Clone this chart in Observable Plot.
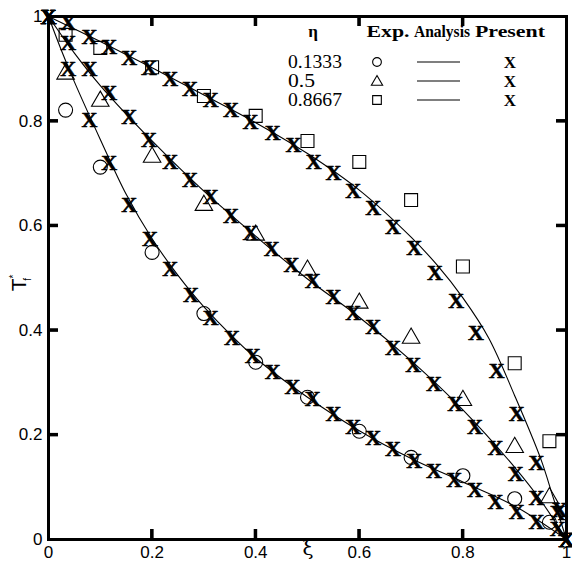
<!DOCTYPE html>
<html><head><meta charset="utf-8">
<script src="https://cdn.jsdelivr.net/npm/d3@7"></script>
<script src="https://cdn.jsdelivr.net/npm/@observablehq/plot@0.6"></script>
<style>body{margin:0;background:#fff}#chart{width:572px;height:563px}</style>
</head><body><div id="chart"></div>
<script>
const xTicks = [0, 0.2, 0.4, 0.6, 0.8, 1];
const yTicks = [0, 0.2, 0.4, 0.6, 0.8, 1];
const innerTicks = [0.2, 0.4, 0.6, 0.8];
const etaLabels = ["0.1333", "0.5", "0.8667"];

// Present (X markers)
const presXi1 = [0, 0.038, 0.079, 0.117, 0.156, 0.196, 0.235, 0.275, 0.313, 0.354, 0.394, 0.433, 0.471, 0.510, 0.550, 0.588, 0.627, 0.665, 0.706, 0.744, 0.783, 0.823, 0.863, 0.904, 0.942, 0.983, 1];
const presT1  = [1, 0.899, 0.802, 0.720, 0.639, 0.574, 0.517, 0.467, 0.423, 0.385, 0.350, 0.320, 0.291, 0.268, 0.241, 0.216, 0.195, 0.174, 0.151, 0.132, 0.113, 0.094, 0.071, 0.052, 0.033, 0.020, 0];
const presXi2 = [0, 0.038, 0.079, 0.117, 0.156, 0.194, 0.235, 0.273, 0.313, 0.352, 0.390, 0.431, 0.469, 0.510, 0.550, 0.588, 0.627, 0.665, 0.704, 0.744, 0.785, 0.823, 0.863, 0.902, 0.942, 0.983, 1];
const presT2  = [1, 0.949, 0.899, 0.853, 0.808, 0.764, 0.722, 0.687, 0.655, 0.618, 0.586, 0.555, 0.524, 0.494, 0.463, 0.433, 0.406, 0.367, 0.333, 0.297, 0.260, 0.215, 0.175, 0.126, 0.080, 0.050, 0];
const presXi3 = [0, 0.038, 0.079, 0.117, 0.156, 0.194, 0.235, 0.273, 0.313, 0.352, 0.390, 0.433, 0.473, 0.512, 0.550, 0.588, 0.627, 0.665, 0.706, 0.746, 0.787, 0.825, 0.865, 0.904, 0.942, 0.987, 1];
const presT3  = [1, 0.988, 0.961, 0.942, 0.921, 0.901, 0.880, 0.861, 0.840, 0.821, 0.798, 0.777, 0.754, 0.722, 0.700, 0.666, 0.634, 0.597, 0.557, 0.509, 0.456, 0.394, 0.322, 0.241, 0.147, 0.056, 0];

// Experimental
const expXi = [0.033, 0.1, 0.2, 0.3, 0.4, 0.5, 0.6, 0.7, 0.8, 0.9, 0.967];
const expT1 = [0.821, 0.712, 0.549, 0.432, 0.339, 0.272, 0.207, 0.157, 0.122, 0.078, 0.033];
const expT2 = [0.890, 0.838, 0.731, 0.639, 0.582, 0.515, 0.452, 0.385, 0.266, 0.176, 0.080];
const expT3 = [0.965, 0.940, 0.903, 0.848, 0.810, 0.762, 0.722, 0.649, 0.522, 0.337, 0.188];

// Analysis curves
const anXi1 = [0, 0.025, 0.05, 0.1, 0.15, 0.2, 0.25, 0.3, 0.4, 0.5, 0.6, 0.7, 0.8, 0.9, 1];
const anT1  = [1, 0.935, 0.875, 0.765, 0.66, 0.575, 0.505, 0.445, 0.347, 0.272, 0.208, 0.155, 0.110, 0.064, 0];
const anXi2 = [0, 0.05, 0.1, 0.2, 0.3, 0.4, 0.5, 0.6, 0.7, 0.8, 0.9, 0.95, 1];
const anT2  = [1, 0.93, 0.868, 0.762, 0.666, 0.58, 0.498, 0.425, 0.342, 0.248, 0.138, 0.075, 0];
const anXi3 = [0, 0.1, 0.2, 0.3, 0.4, 0.5, 0.6, 0.7, 0.75, 0.8, 0.85, 0.9, 0.95, 0.975, 1];
const anT3  = [1, 0.952, 0.902, 0.85, 0.797, 0.738, 0.668, 0.578, 0.525, 0.462, 0.385, 0.275, 0.155, 0.078, 0];

const mk = (xs, ys, s) => xs.map((x, i) => ({xi: x, T: ys[i], s}));
const present = [...mk(presXi1, presT1, 0), ...mk(presXi2, presT2, 1), ...mk(presXi3, presT3, 2)];
const analysis = [...mk(anXi1, anT1, 0), ...mk(anXi2, anT2, 1), ...mk(anXi3, anT3, 2)];
const exp1 = mk(expXi, expT1, 0), exp2 = mk(expXi, expT2, 1), exp3 = mk(expXi, expT3, 2);

const W = 572, H = 563, ML = 48, MR = 6, MT = 16, MB = 24, TL = 10;
const expStyle = {x: "xi", y: "T", stroke: "#000", strokeWidth: 1.1, fill: "none"};
const plot = Plot.plot({
  width: W, height: H,
  marginLeft: ML, marginRight: MR, marginTop: MT, marginBottom: MB,
  x: {domain: [0, 1]},
  y: {domain: [0, 1]},
  style: {fontFamily: "'Liberation Sans', Arial, sans-serif", fontSize: "17px", background: "#fff"},
  marks: [
    Plot.line(analysis, {x: "xi", y: "T", z: "s", curve: "catmull-rom", stroke: "#000", strokeWidth: 1.1}),
    Plot.dot(exp1, {...expStyle, symbol: "circle", r: 7}),
    Plot.dot(exp2, {...expStyle, symbol: "triangle", r: 6.5}),
    Plot.dot(exp3, {...expStyle, symbol: "square", r: 7.3}),
    Plot.text(present, {x: "xi", y: "T", text: () => "X", fontFamily: "'Liberation Serif', 'Times New Roman', serif", fontWeight: "bold", fontSize: 22, fill: "#000", stroke: "#000", strokeWidth: 0.6}),
    Plot.frame({stroke: "#000", strokeWidth: 3}),
    // inward ticks on all four sides
    Plot.ruleX(innerTicks, {x: d => d, insetTop: H - MT - MB - TL, strokeWidth: 3}),
    Plot.ruleX(innerTicks, {x: d => d, insetBottom: H - MT - MB - TL, strokeWidth: 3}),
    Plot.ruleY(innerTicks, {y: d => d, insetRight: W - ML - MR - TL, strokeWidth: 3}),
    Plot.ruleY(innerTicks, {y: d => d, insetLeft: W - ML - MR - TL, strokeWidth: 3}),
    Plot.axisX(xTicks, {anchor: "bottom", tickSize: 0, tickPadding: 6, tickFormat: d => String(d), label: null}),
    Plot.axisY(yTicks, {anchor: "left", tickSize: 0, tickPadding: 6, tickFormat: d => String(d), label: null})
  ]
});
document.getElementById("chart").appendChild(plot);

const svg = d3.select(plot);
// fallback ticks as filled rects through the same scales
const sx = plot.scale("x"), sy = plot.scale("y");
const X0 = sx.apply(0), X1 = sx.apply(1), Y0 = sy.apply(0), Y1 = sy.apply(1);
const tk = svg.append("g").attr("fill", "#000");
innerTicks.forEach(v => {
  const px = sx.apply(v), py = sy.apply(v);
  tk.append("rect").attr("x", px - 1.5).attr("y", Y0 - TL).attr("width", 3).attr("height", TL);
  tk.append("rect").attr("x", px - 1.5).attr("y", Y1).attr("width", 3).attr("height", TL);
  tk.append("rect").attr("x", X0).attr("y", py - 1.5).attr("width", TL).attr("height", 3);
  tk.append("rect").attr("x", X1 - TL).attr("y", py - 1.5).attr("width", TL).attr("height", 3);
});

// axis titles
svg.append("text").attr("x", 308).attr("y", 555).attr("text-anchor", "middle").attr("fill", "#000")
  .attr("font-family", "'DejaVu Serif', serif").attr("font-size", 20).text("ξ");
const yl = svg.append("text").attr("transform", "translate(26,283) rotate(-90)").attr("text-anchor", "middle").attr("fill", "#000")
  .attr("font-family", "'Liberation Sans', Arial, sans-serif").attr("font-size", 21);
yl.append("tspan").text("T");
yl.append("tspan").attr("font-size", 10).attr("dy", -9).text("*");
yl.append("tspan").attr("font-size", 10).attr("dx", -6).attr("dy", 14).text("f");

// legend
const lg = svg.append("g").attr("font-family", "'Liberation Serif', 'Times New Roman', serif").attr("fill", "#000");
const head = [["η", 313, null], ["Exp.", 388, 43], ["Analysis", 442, 56], ["Present", 510, 70]];
head.forEach(([t, x, len]) => {
  const e = lg.append("text").attr("x", x).attr("y", 37).attr("text-anchor", "middle").attr("font-weight", "bold").attr("font-size", 17).text(t);
  if (len) e.attr("textLength", len).attr("lengthAdjust", "spacingAndGlyphs");
});
const rowY = [62, 81, 100];
etaLabels.forEach((t, i) => {
  const y = rowY[i];
  lg.append("text").attr("x", 288).attr("y", y + 6).attr("text-anchor", "start").attr("font-size", 18)
    .attr("textLength", t.length === 3 ? 27 : 54).attr("lengthAdjust", "spacingAndGlyphs").text(t);
  const sym = d3.symbol().type([d3.symbolCircle, d3.symbolTriangle, d3.symbolSquare][i]).size([60, 55, 75][i]);
  lg.append("path").attr("d", sym()).attr("transform", `translate(377,${y + (i === 1 ? 1 : 0)})`).attr("fill", "none").attr("stroke", "#000").attr("stroke-width", 1.1);
  lg.append("line").attr("x1", 417).attr("x2", 460).attr("y1", y).attr("y2", y).attr("stroke", "#000").attr("stroke-width", 1.2);
  lg.append("text").attr("x", 510).attr("y", y + 6).attr("text-anchor", "middle").attr("font-weight", "bold").attr("font-size", 17).text("X");
});
</script>
</body></html>
